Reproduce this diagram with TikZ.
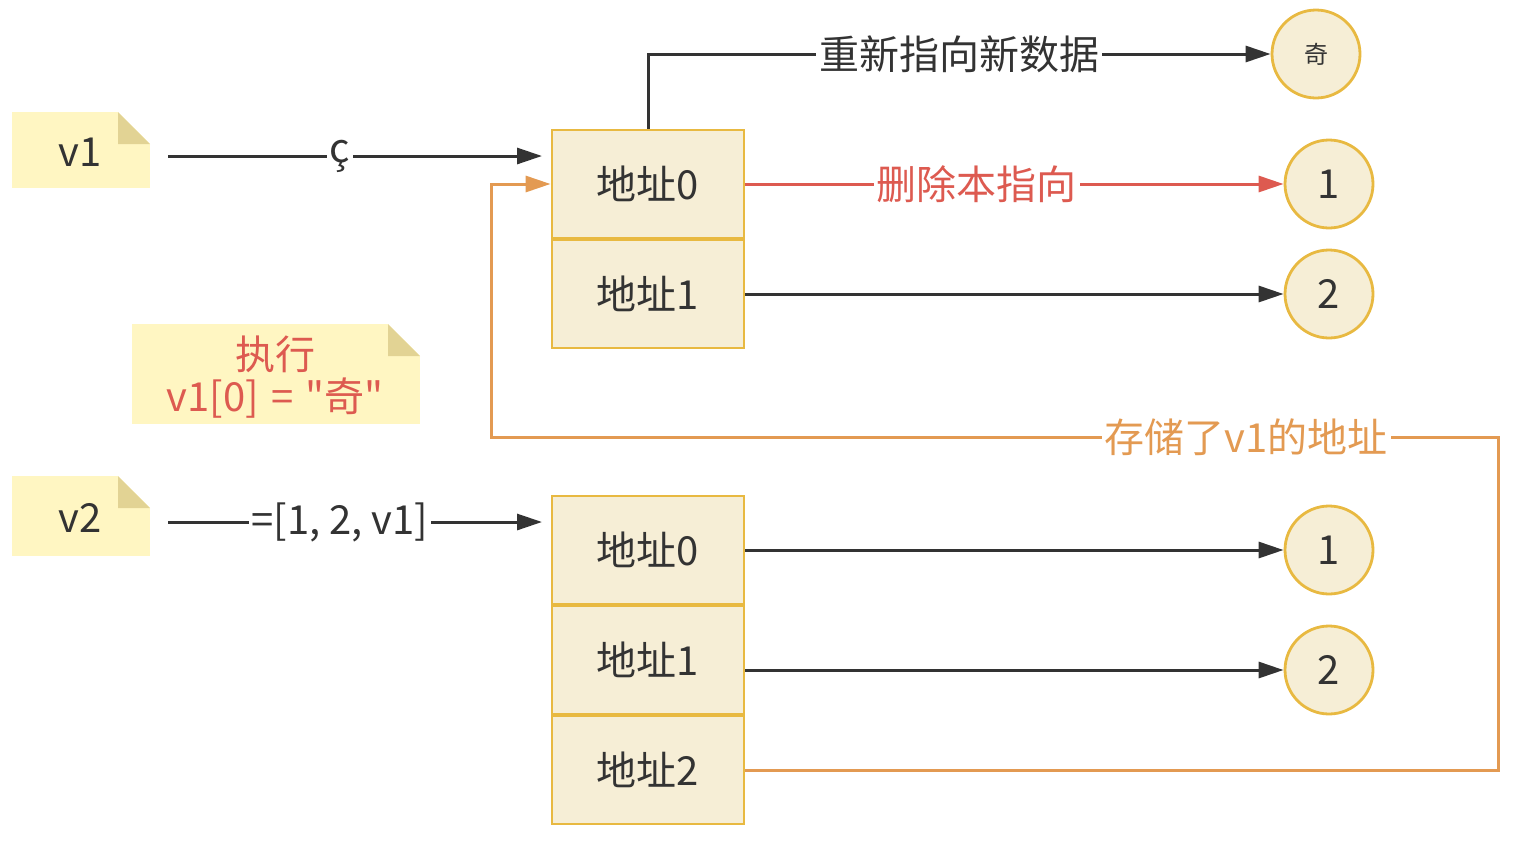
\documentclass[tikz,border=0pt]{standalone}
\usepackage{fontspec}
\setmainfont{Noto Sans CJK SC}[Ligatures=TeXOff]
\usetikzlibrary{arrows.meta}
\definecolor{dk}{HTML}{333333}
\definecolor{rd}{HTML}{DD5A50}
\definecolor{og}{HTML}{E39A52}
\definecolor{bx}{HTML}{E8B941}
\definecolor{bxf}{HTML}{F6EED6}
\definecolor{nt}{HTML}{FFF6C2}
\definecolor{fd}{HTML}{E2D394}
\tikzset{
  big/.style={font=\fontsize{40}{46}\selectfont},
  cell/.style={draw=bx, fill=bxf, line width=2.8pt, minimum width=192pt, minimum height=108pt, inner sep=0pt, big, text=dk},
  val/.style={circle, draw=bx, fill=bxf, line width=2.8pt, minimum size=88pt, inner sep=0pt, big, text=dk},
  note/.style={fill=nt, inner sep=0pt, big, text=dk},
  conn/.style={line width=3pt, -{Triangle[length=25pt,width=16pt]}},
  lbl/.style={fill=white, inner sep=3pt, big},
}
\begin{document}
\begin{tikzpicture}[x=1pt,y=-1pt]
\useasboundingbox (0,0) rectangle (1516,844);
% notes
\node[note, minimum width=138pt, minimum height=76pt] (v1) at (81,150) {};
\fill[white] (118,112) -- (150.5,112) -- (150.5,144) -- cycle;
\fill[fd] (118,112) -- (118,144) -- (150,144) -- cycle;
\node[big, text=dk] (v1t) at (80,152) {v1};

\node[note, minimum width=138pt, minimum height=80pt] (v2) at (81,516) {};
\fill[white] (118,476) -- (150.5,476) -- (150.5,508) -- cycle;
\fill[fd] (118,476) -- (118,508) -- (150,508) -- cycle;
\node[big, text=dk] (v2t) at (80,518) {v2};

\node[note, minimum width=288pt, minimum height=100pt] (ex) at (276,374) {};
\fill[white] (388,324) -- (420.5,324) -- (420.5,356) -- cycle;
\fill[fd] (388,324) -- (388,356) -- (420,356) -- cycle;
\node[big, text=rd, align=center] (ext) at (275,377) {执行\\[-4pt]v1[0]\hspace{0.3em}=\hspace{0.3em}"奇"};

% cells
\node[cell] (a0) at (648,184) {地址0};
\node[cell] (a1) at (648,294) {地址1};
\node[cell] (b0) at (648,550) {地址0};
\node[cell] (b1) at (648,660) {地址1};
\node[cell] (b2) at (648,770) {地址2};

% values
\node[val, font=\fontsize{24}{28}\selectfont] (q) at (1316,54) {奇};
\node[val] (c1) at (1329,184) {1};
\node[val] (c2) at (1329,294) {2};
\node[val] (d1) at (1329,550) {1};
\node[val] (d2) at (1329,670) {2};

% coordinates
\coordinate (s1) at (168,156);
\coordinate (e1) at (542,156);
\coordinate (s2) at (168,522);
\coordinate (e2) at (542,522);

% connectors
\draw[conn, draw=dk] (s1) -- node[lbl, text=dk, pos=0.46] {ç} (e1);
\draw[conn, draw=dk] (s2) -- node[lbl, text=dk, pos=0.46] {=[1, 2, v1]} (e2);
\draw[conn, draw=dk] (a0.north) |- node[lbl, text=dk, pos=0.75] {重新指向新数据} (q.west);
\draw[conn, draw=rd] (a0.east) -- node[lbl, text=rd, pos=0.43] {删除本指向} (c1.west);
\draw[conn, draw=dk] (a1.east) -- (c2.west);
\draw[conn, draw=dk] (b0.east) -- (d1.west);
\draw[conn, draw=dk] (b1.east |- d2.west) -- (d2.west);
\draw[conn, draw=og] (b2.east) -- (1498,770) -- (1498,437)
  -- node[lbl, text=og, pos=0.25] {存储了v1的地址} (491,437) -- (491,184) -- (a0.west);
\end{tikzpicture}
\end{document}
